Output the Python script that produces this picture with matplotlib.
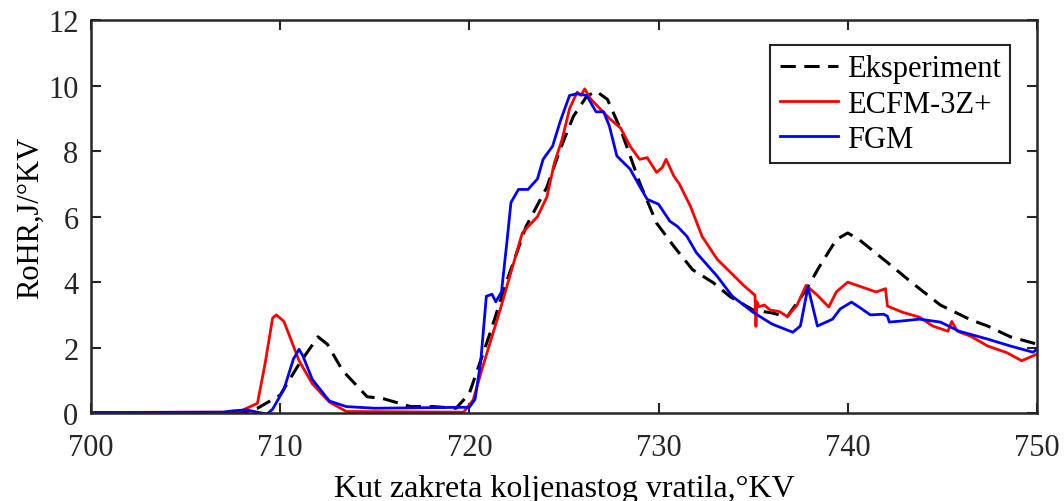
import matplotlib
matplotlib.use("Agg")
import matplotlib.pyplot as plt
import numpy as np

plt.rcParams['font.family'] = ['Liberation Serif', 'DejaVu Serif']

# Eksperiment (crank angle, RoHR)
exp_x = [700, 704, 706.8, 708.0, 708.8, 710.0, 711.0, 712.0, 712.5, 713.3, 714.6, 715.4, 716.9,
         718.1, 719.3, 720.0, 721.1, 722.0, 723.0, 724.1, 724.8, 725.5, 726.2, 726.7, 727.3,
         728.0, 729.0, 729.9, 730.8, 731.8, 732.9, 733.8, 735.0, 736.0, 736.8, 737.8, 738.5,
         739.4, 740.0, 740.6, 742.1, 743.4, 744.9, 746.5, 747.4, 748.6, 749.8, 750]
exp_y = [0.0, -0.02, -0.08, 0.0, 0.15, 0.55, 1.5, 2.33, 2.1, 1.3, 0.5, 0.45, 0.2,
         0.2, 0.15, 0.6, 2.45, 4.07, 5.7, 6.9, 8.05, 9.06, 9.67, 9.83, 9.58,
         8.66, 7.04, 5.8, 5.1, 4.38, 3.98, 3.55, 3.15, 3.06, 2.94, 3.76, 4.47,
         5.3, 5.5, 5.3, 4.6, 3.98, 3.3, 2.85, 2.66, 2.33, 2.14, 2.1]

# ECFM-3Z+
ecfm_x = [700, 707.0, 707.9, 708.8, 709.2, 709.6, 709.8, 710.2, 710.6, 711.0, 711.7, 712.6,
          713.5, 719.7, 719.9, 720.2, 720.7, 721.6, 722.3, 722.8, 723.6, 724.1, 724.5, 724.9,
          725.3, 725.7, 725.9, 726.1, 726.4, 726.9, 727.4, 728.0, 728.5, 729.0, 729.4, 729.9,
          730.2, 730.4, 730.8, 731.1, 731.7, 732.3, 733.1, 733.8, 734.5, 735.1, 735.15, 735.2,
          735.3, 735.6, 735.9, 736.4, 736.8, 737.3, 737.8, 738.1, 738.4, 739.0, 739.4, 740.0,
          740.6, 741.5, 742.0, 742.1, 742.9, 743.8, 744.5, 745.3, 745.5, 745.8, 746.5, 747.4,
          748.4, 749.2, 750]
ecfm_y = [0.02, 0.03, 0.06, 0.3, 1.5, 2.9, 3.0, 2.8, 2.2, 1.6, 0.9, 0.34,
          0.05, 0.03, 0.18, 0.4, 1.4, 3.1, 4.5, 5.5, 6.0, 6.6, 7.65, 8.35,
          9.3, 9.8, 9.7, 9.9, 9.6, 9.3, 9.0, 8.7, 8.15, 7.75, 7.8, 7.35,
          7.5, 7.75, 7.25, 7.0, 6.3, 5.4, 4.7, 4.3, 3.9, 3.6, 2.65, 3.4,
          3.25, 3.3, 3.15, 3.1, 2.95, 3.27, 3.9, 3.75, 3.6, 3.24, 3.7, 4.0,
          3.88, 3.7, 3.8, 3.27, 3.08, 2.93, 2.66, 2.5, 2.8, 2.5, 2.35, 2.05,
          1.85, 1.6, 1.8]

# FGM
fgm_x = [700, 707.0, 707.5, 708.2, 708.8, 709.3, 709.6, 710.2, 710.7, 711.0, 711.2, 711.7,
         712.6, 713.5, 715.0, 720.0, 720.3, 720.6, 720.9, 721.2, 721.4, 721.7, 722.0, 722.2,
         722.6, 723.1, 723.6, 723.9, 724.4, 724.8, 725.3, 725.7, 726.2, 726.7, 727.1, 727.4,
         727.8, 728.5, 729.0, 729.4, 730.0, 730.6, 731.0, 731.5, 732.0, 733.1, 733.9, 735.0,
         736.0, 737.1, 737.5, 737.9, 738.4, 739.2, 739.6, 740.2, 740.6, 741.2, 741.9, 742.1,
         742.2, 742.8, 743.8, 744.9, 745.9, 747.4, 748.6, 749.8, 750]
fgm_y = [0.02, 0.03, 0.07, 0.1, 0.03, -0.03, 0.12, 0.73, 1.65, 1.95, 1.75, 1.03,
         0.37, 0.2, 0.15, 0.18, 0.42, 1.56, 3.57, 3.63, 3.4, 3.7, 5.3, 6.43,
         6.83, 6.83, 7.15, 7.75, 8.15, 8.9, 9.7, 9.75, 9.7, 9.2, 9.2, 8.77,
         7.85, 7.45, 6.93, 6.53, 6.38, 5.86, 5.7, 5.4, 4.9, 4.18, 3.57, 3.08,
         2.72, 2.47, 2.66, 3.85, 2.66, 2.87, 3.18, 3.39, 3.24, 3.0, 3.02, 2.96,
         2.78, 2.81, 2.87, 2.78, 2.5, 2.26, 2.05, 1.86, 1.95]

fig = plt.figure(figsize=(10.64, 5.02), dpi=100)
ax = fig.add_axes([0.0855, 0.175, 0.889, 0.783])

ax.plot(exp_x, exp_y, color='black', linestyle=(0, (5, 2.8)), linewidth=2.2, label='Eksperiment')
ax.plot(ecfm_x, ecfm_y, color='#ff0000', linewidth=2.0, label='ECFM-3Z+')
ax.plot(fgm_x, fgm_y, color='#0000ff', linewidth=2.0, label='FGM')

ax.set_xlim(700, 750)
ax.set_ylim(0, 12)
ax.set_xticks(np.arange(700, 751, 10))
ax.set_yticks(np.arange(0, 13, 2))
ax.tick_params(direction='in', top=True, right=True, length=7, width=1.5,
               labelsize=22, colors='#262626')
ax.tick_params(axis='x', pad=14)
ax.tick_params(axis='y', pad=9)
for s in ax.spines.values():
    s.set_linewidth(1.8)
    s.set_color('#262626')

ax.set_xlabel('Kut zakreta koljenastog vratila,°KV', fontsize=23, labelpad=9)
ax.set_ylabel('RoHR,J/°KV', fontsize=22, labelpad=2)

leg = ax.legend(loc='upper right', bbox_to_anchor=(0.9715, 0.936), borderaxespad=0,
                fontsize=22, fancybox=False, edgecolor='#262626', framealpha=1,
                handlelength=1.9, handletextpad=0.3, borderpad=0.3, labelspacing=0.2)
leg.get_frame().set_linewidth(1.5)

fig.savefig('out.png', dpi=100)
